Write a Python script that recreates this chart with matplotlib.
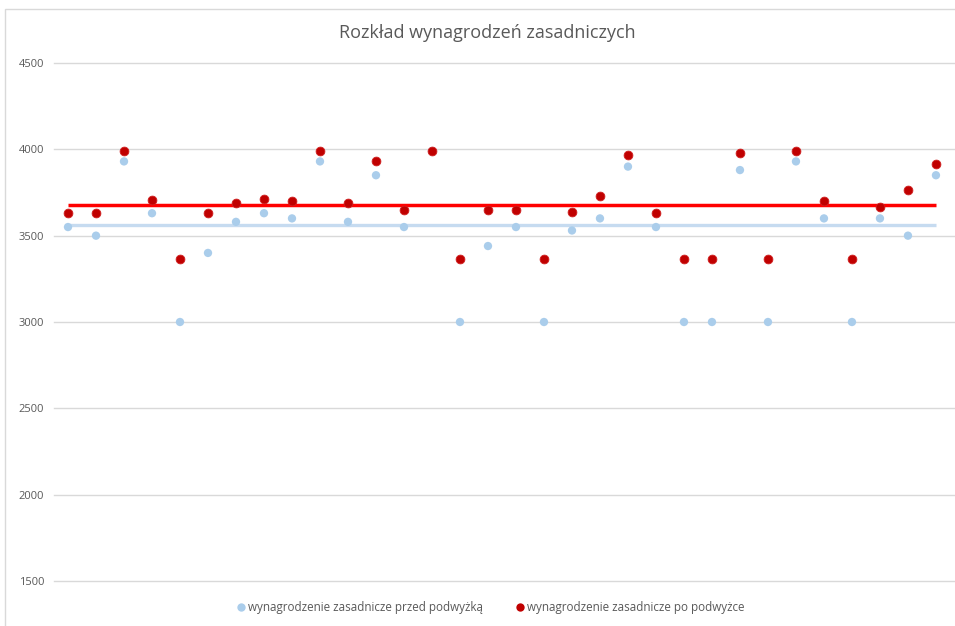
import matplotlib.pyplot as plt
from matplotlib.patches import Rectangle
from matplotlib.lines import Line2D

# numer pracownika (kolejne punkty na osi X)
pracownicy = list(range(1, 33))

przed = [3550, 3500, 3930, 3630, 3000, 3400, 3580, 3630, 3600, 3930, 3580,
         3850, 3550, 3990, 3000, 3440, 3550, 3000, 3530, 3600, 3900, 3550,
         3000, 3000, 3880, 3000, 3930, 3600, 3000, 3600, 3500, 3850]

po = [3631, 3631, 3988, 3705, 3367, 3631, 3691, 3710, 3701, 3988, 3691,
      3934, 3649, 3988, 3367, 3649, 3649, 3367, 3639, 3730, 3965, 3631,
      3367, 3367, 3981, 3367, 3988, 3701, 3367, 3664, 3765, 3915]

# poziomy linii srednich
srednia_przed = 3564
srednia_po = 3678

y_ticks = [1500, 2000, 2500, 3000, 3500, 4000, 4500]

title = 'Rozkład wynagrodzeń zasadniczych'
label_przed = 'wynagrodzenie zasadnicze przed podwyżką'
label_po = 'wynagrodzenie zasadnicze po podwyżce'

plt.rcParams['font.family'] = ['Open Sans', 'DejaVu Sans']

text_col = '#595959'
blue = '#AACDEB'
red = '#C00000'

fig = plt.figure(figsize=(9.55, 6.26), dpi=100)
ax = fig.add_axes([54 / 955, 45 / 626, (955 - 54) / 955, (581 - 63) / 626])

# ramka wykresu
fig.patches.append(Rectangle((5 / 955, -0.1), 1.2, 1.1 - 9 / 626,
                             transform=fig.transFigure, fill=False,
                             edgecolor='#D9D9D9', linewidth=1.0))

ax.plot([pracownicy[0], pracownicy[-1]], [srednia_przed] * 2,
        color='#C6DBF0', linewidth=2.4, solid_capstyle='butt', zorder=2)
ax.plot([pracownicy[0], pracownicy[-1]], [srednia_po] * 2,
        color='#FF0000', linewidth=2.5, solid_capstyle='butt', zorder=3)

ax.scatter(pracownicy, przed, s=36, color=blue, edgecolors='none', zorder=4)
ax.scatter(pracownicy, po, s=40, color=red, edgecolors='#D02020',
           linewidths=0.6, zorder=5)

ax.set_xlim(0.5, 32.68)
ax.set_ylim(1500, 4500)
ax.set_yticks(y_ticks)
ax.set_yticklabels([str(v) for v in y_ticks], fontsize=8, color=text_col)
ax.tick_params(axis='y', length=0, pad=7)
ax.set_xticks([])
ax.grid(axis='y', color='#D9D9D9', linewidth=1.0)
for gl in ax.get_ygridlines():
    gl.set_clip_on(False)
ax.set_axisbelow(True)
for s in ax.spines.values():
    s.set_visible(False)

fig.text(487 / 955, 1 - 33 / 626, title, ha='center', va='center',
         fontsize=13, color=text_col)

handles = [
    Line2D([], [], linestyle='none', marker='o', markersize=6,
           markerfacecolor=blue, markeredgecolor='none', label=label_przed),
    Line2D([], [], linestyle='none', marker='o', markersize=6,
           markerfacecolor=red, markeredgecolor='none', label=label_po),
]
fig.legend(handles=handles, loc='center', bbox_to_anchor=(489 / 955, 1 - 608 / 626),
           ncols=2, frameon=False, fontsize=8.4, labelcolor=text_col,
           handletextpad=0.0, columnspacing=2.6, handlelength=1.2)

fig.savefig('out.png', dpi=100)
